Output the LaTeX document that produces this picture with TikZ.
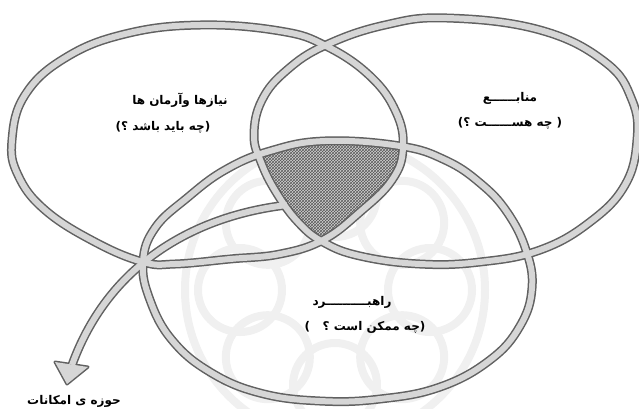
\documentclass[tikz,border=0pt]{standalone}
\usepackage{fontspec}
\usetikzlibrary{patterns}
\TeXXeTstate=1
\newfontfamily\arabicfont[Script=Arabic]{DejaVu Sans}
\tikzset{
  bandout/.style={draw=black!62, line width=9pt, line join=round},
  bandin/.style={draw=gray!32, line width=6pt, line join=round},
  lbl/.style={font=\arabicfont\bfseries\fontsize{12}{14}\selectfont, inner sep=0pt},
  wmark/.style={draw=black!6, line width=8pt}
}
\newcommand{\ringL}[1]{\path[#1] plot[smooth cycle, tension=0.7] coordinates {
  (200,25) (280,31) (326,46) (370,76) (396,112) (403,148) (392,180) (360,212) (323,240)
  (280,254) (230,259) (175,264) (143,262) (95,242) (45,210) (18,175) (12,140) (25,95) (65,58) (125,34)};}
\newcommand{\ringR}[1]{\path[#1] plot[smooth cycle, tension=0.7] coordinates {
  (447,18) (540,30) (605,62) (632,100) (637,140) (625,185) (590,222) (540,250) (480,262)
  (420,264) (360,256) (323,242) (298,222) (276,192) (261,162) (254,135) (262,100) (287,70)
  (326,45) (385,25)};}
\newcommand{\ringB}[1]{\path[#1] plot[smooth cycle, tension=0.7] coordinates {
  (325,141) (400,146) (445,160) (480,183) (507,212) (526,250) (532,288) (520,326) (490,360)
  (440,387) (380,399) (320,401) (260,393) (210,372) (172,340) (150,300) (143,262) (155,228)
  (187,198) (225,170) (270,151)};}
\begin{document}
\begin{tikzpicture}[x=1pt, y=-1pt]
\useasboundingbox (0,0) rectangle (639,408);
% faint watermark rosette
\foreach \a in {0,45,...,315}{
  \draw[wmark] (335,290) ++(\a:95) circle (42);
}
\draw[wmark] (335,290) circle (150);
% shaded centre
\begin{scope}
  \ringL{clip}
  \ringR{clip}
  \ringB{fill=gray!35}
  \ringB{pattern=crosshatch, pattern color=black!65}
\end{scope}
% outer pass
\ringL{bandout}
\ringR{bandout}
\ringB{bandout}
\coordinate (as) at (287,205);
\coordinate (ae) at (72,365);
\draw[bandout] (as) .. controls (200,215) and (110,260) .. (ae);
\path[fill=black!62, draw=black!62, line width=3pt, line join=round]
  (55,362) -- (67,384) -- (88,367) -- cycle;
% inner pass
\ringL{bandin}
\ringR{bandin}
\ringB{bandin}
\draw[bandin] (as) .. controls (200,215) and (110,260) .. (ae);
\path[fill=gray!32] (55,362) -- (67,384) -- (88,367) -- cycle;
% labels
\node[lbl] (needs) at (180,100) {\beginR نیازها وآرمان ها\endR};
\node[lbl] (needsq) at (163,127) {\beginR (چه باید باشد ؟)\endR};
\node[lbl] (res) at (510,98) {\beginR منابــــــع\endR};
\node[lbl] (resq) at (510,123) {\beginR ( چه هســــــت ؟)\endR};
\node[lbl] (strat) at (352,302) {\beginR راهبــــــــــرد\endR};
\node[lbl] (stratq) at (365,327) {\beginR (چه ممکن است ؟ \ \ )\endR};
\node[lbl] (poss) at (74,401) {\beginR حوزه ی امکانات\endR};
\end{tikzpicture}
\end{document}
